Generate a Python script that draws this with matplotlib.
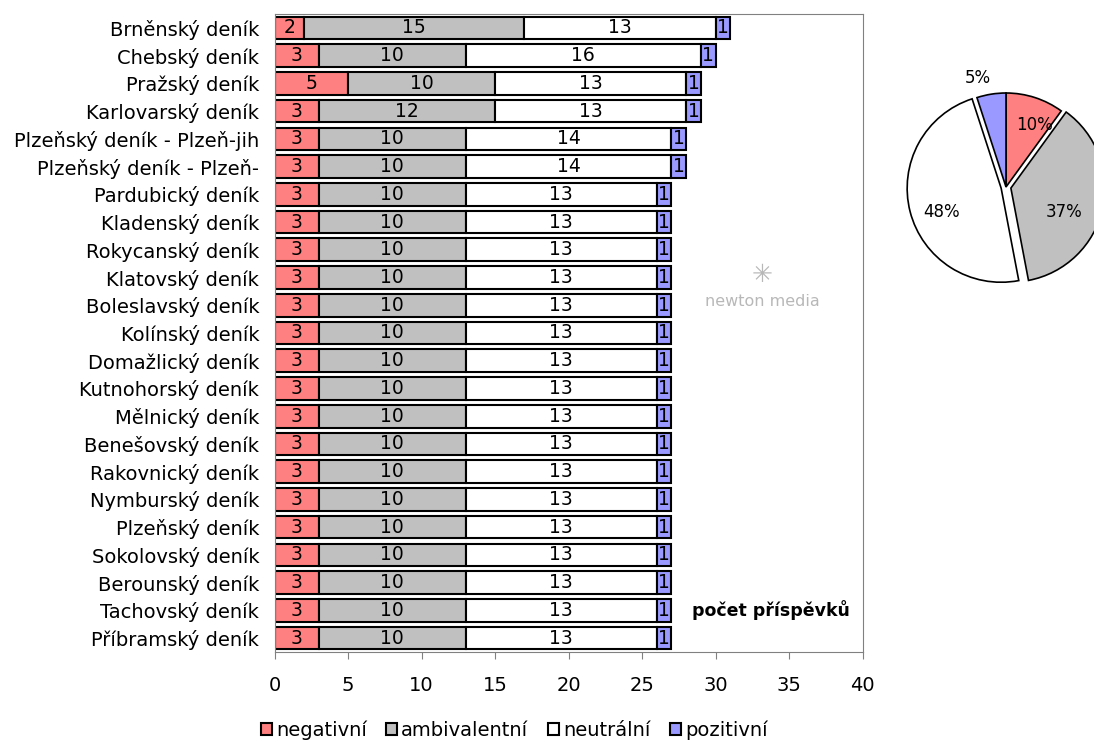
import matplotlib.pyplot as plt
import numpy as np

plt.rcParams['font.family'] = ['DejaVu Sans']

# deniky odshora dolu
deniky = ["Brněnský deník", "Chebský deník", "Pražský deník", "Karlovarský deník",
          "Plzeňský deník - Plzeň-jih", "Plzeňský deník - Plzeň-", "Pardubický deník",
          "Kladenský deník", "Rokycanský deník", "Klatovský deník", "Boleslavský deník",
          "Kolínský deník", "Domažlický deník", "Kutnohorský deník", "Mělnický deník",
          "Benešovský deník", "Rakovnický deník", "Nymburský deník", "Plzeňský deník",
          "Sokolovský deník", "Berounský deník", "Tachovský deník", "Příbramský deník"]

negativni = [2, 3, 5, 3, 3, 3] + [3] * 17
ambivalentni = [15, 10, 10, 12, 10, 10] + [10] * 17
neutralni = [13, 16, 13, 13, 14, 14] + [13] * 17
pozitivni = [1, 1, 1, 1, 1, 1] + [1] * 17

kategorie = ["negativní", "ambivalentní", "neutrální", "pozitivní"]
barvy = ["#FF8080", "#C0C0C0", "#FFFFFF", "#9999FF"]

pie_hodnoty = [10, 37, 48, 5]
pie_popisky = ["10%", "37%", "48%", "5%"]

fig = plt.figure(figsize=(10.94, 7.42), dpi=100)
ax = fig.add_axes([274.5 / 1094, 1 - 652 / 742, 588 / 1094, 638 / 742])

n = len(deniky)
y = np.arange(n)[::-1]
left = np.zeros(n)
for data, barva, jmeno in zip([negativni, ambivalentni, neutralni, pozitivni], barvy, kategorie):
    data = np.array(data)
    ax.barh(y, data, left=left, height=0.815, color=barva, edgecolor="black",
            linewidth=1.5, label=jmeno)
    for yi, l, d in zip(y, left, data):
        ax.text(l + d / 2, yi, str(d), ha="center", va="center", fontsize=13.5)
    left = left + data

ax.set_xlim(0, 40)
ax.set_ylim(-0.5, n - 0.5)
ax.set_xticks(range(0, 41, 5))
ax.set_yticks(y)
ax.set_yticklabels(deniky, fontsize=14)
ax.tick_params(axis="y", length=0, pad=11)
ax.tick_params(axis="x", labelsize=14, pad=12, length=5, color="#808080")
for s in ax.spines.values():
    s.set_color("#808080")

ax.text(28.4, y[-2], "počet příspěvků", fontsize=12.5, fontweight="bold", va="center")

# logo
ax.text(33.2, y[10] + 0.15, "newton media", fontsize=11.5, color="#B8B8B8", ha="center", va="center")
ax.text(33.2, y[9] + 0.1, "✳", fontsize=18, color="#B8B8B8", ha="center", va="center")

fig.legend(loc="center", bbox_to_anchor=(0.47, 0.016), ncol=4, fontsize=14,
           frameon=False, handlelength=0.58, handleheight=0.55, handletextpad=0.2,
           columnspacing=1.0, borderpad=0)

# kolac
pax = fig.add_axes([(1006 - 100) / 1094, 1 - (187 + 100) / 742, 200 / 1094, 200 / 742])
pax.pie(pie_hodnoty, colors=barvy, startangle=90, counterclock=False,
        explode=[0, 0.05, 0.05, 0], radius=0.94,
        wedgeprops=dict(edgecolor="black", linewidth=1.2))
pozice = [(0.29, 0.62), (0.58, -0.25), (-0.64, -0.25), (-0.28, 1.09)]
for (px, py), t in zip(pozice, pie_popisky):
    pax.text(px, py, t, ha="center", va="center", fontsize=12)
pax.set_xlim(-1.0, 1.0)
pax.set_ylim(-1.0, 1.0)
pax.set_aspect("equal")

fig.savefig("out.png", dpi=100)
